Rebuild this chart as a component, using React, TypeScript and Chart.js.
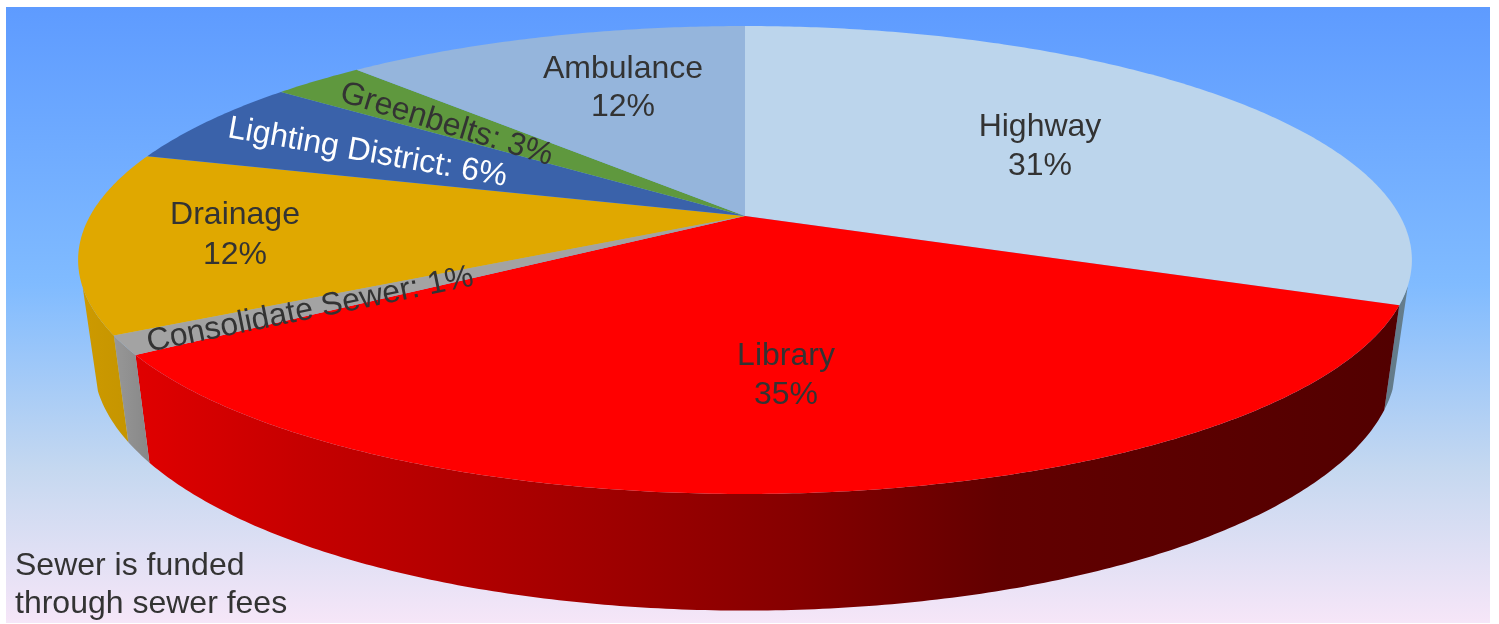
import React, { useEffect, useRef } from "react";
import { Chart, registerables } from "chart.js";

Chart.register(...registerables);

const sliceNames = ["Highway", "Library", "Consolidate Sewer", "Drainage", "Lighting District", "Greenbelts", "Ambulance"];
const sliceValues = [31, 34.7, 1.3, 12.5, 6, 2.7, 11.8];
const shownPercents = [31, 35, 1, 12, 6, 3, 12];
const sliceColors = ["#bcd5ec", "#ff0000", "#a3a3a3", "#e0a800", "#3a62aa", "#5f983e", "#95b5dc"];
const noteLines = ["Sewer is funded", "through sewer fees"];

// side-wall shading per slice: [x, colour]
const sideShades: [number, string][][] = [
  [[1300, "#5a6a78"], [1420, "#66808f"]],
  [[135, "#e00000"], [300, "#c60000"], [600, "#a00000"], [800, "#850000"], [1000, "#620000"], [1400, "#520000"]],
  [[110, "#999999"], [155, "#858585"]],
  [[70, "#cf9b00"], [135, "#c49400"]],
  [[0, "#2c4a80"], [1499, "#2c4a80"]],
  [[0, "#47722e"], [1499, "#47722e"]],
  [[0, "#7088a5"], [1499, "#7088a5"]],
];

// label placement: two-line = [cx, baseline1, baseline2]; inline = [cx, baseline, degrees]
const stacked: Record<string, number[]> = {
  Highway: [1040, 136, 175],
  Library: [786, 365, 404],
  Drainage: [235, 224, 264],
  Ambulance: [623, 78, 116],
};
const inline: Record<string, { at: number[]; color: string }> = {
  "Consolidate Sewer": { at: [312, 318.5, -11.5], color: "#333333" },
  "Lighting District": { at: [366, 161.5, 10], color: "#ffffff" },
  Greenbelts: { at: [444, 133, 17], color: "#333333" },
};

const TOP = { x0: 745, y0: 216, A: 655, B: 225.7, k: 0.188 };
const BOTTOM = { x0: 745, y0: 315, A: 640, B: 240, k: 0.188 };
const WALL_MIN_V = 0.29; // walls only show on the front of the disk
const FONT = '32px "Liberation Sans", Arial, sans-serif';

type Disk = typeof TOP;
const project = (d: Disk, t: number) => {
  const u = Math.sin(t);
  const v = -Math.cos(t);
  const w = 1 - d.k * v;
  return { x: d.x0 + (d.A * u) / w, y: d.y0 + (d.B * v) / w };
};

const angles = (a: number, b: number) => {
  const n = Math.max(8, Math.ceil((b - a) / 0.01));
  const ts = [];
  for (let i = 0; i <= n; i++) ts.push(a + ((b - a) * i) / n);
  return ts;
};

const pie3d = {
  id: "pie3d",
  beforeDraw(chart: any) {
    const { ctx } = chart;
    const g = ctx.createLinearGradient(0, 7, 0, 623);
    g.addColorStop(0, "#5e9bff");
    g.addColorStop(0.45, "#80bbff");
    g.addColorStop(0.75, "#c5d8f0");
    g.addColorStop(1, "#f6e6f8");
    ctx.fillStyle = g;
    ctx.fillRect(6, 7, 1484, 616);
  },
  beforeDatasetsDraw(chart: any) {
    const { ctx } = chart;
    const arcs = chart.getDatasetMeta(0).data;
    const spans = arcs.map((a: any) => {
      const p = a.getProps(["startAngle", "endAngle"], true);
      return [p.startAngle + Math.PI / 2, p.endAngle + Math.PI / 2];
    });
    ctx.save();
    // side walls
    spans.forEach(([a, b]: number[], i: number) => {
      const ts = angles(a, b).filter((t) => -Math.cos(t) >= WALL_MIN_V);
      if (ts.length < 2) return;
      const stops = sideShades[i];
      const x0 = stops[0][0];
      const x1 = stops[stops.length - 1][0];
      const g = ctx.createLinearGradient(x0, 0, x1, 0);
      stops.forEach(([x, c]) => g.addColorStop((x - x0) / (x1 - x0), c));
      ctx.fillStyle = g;
      const top = ts.map((t) => project(TOP, t));
      const bot = ts.map((t) => project(BOTTOM, t)).reverse();
      ctx.beginPath();
      [...top, ...bot].forEach((p, j) => (j ? ctx.lineTo(p.x, p.y) : ctx.moveTo(p.x, p.y)));
      ctx.closePath();
      ctx.fill();
    });
    // top faces
    spans.forEach(([a, b]: number[], i: number) => {
      ctx.fillStyle = sliceColors[i];
      ctx.beginPath();
      ctx.moveTo(TOP.x0, TOP.y0);
      angles(a, b).forEach((t) => {
        const p = project(TOP, t);
        ctx.lineTo(p.x, p.y);
      });
      ctx.closePath();
      ctx.fill();
    });
    ctx.restore();
    return false;
  },
  afterDraw(chart: any) {
    const { ctx } = chart;
    ctx.save();
    ctx.font = FONT;
    ctx.textBaseline = "alphabetic";
    sliceNames.forEach((name, i) => {
      const pct = `${shownPercents[i]}%`;
      ctx.textAlign = "center";
      if (stacked[name]) {
        const [cx, y1, y2] = stacked[name];
        ctx.fillStyle = "#333333";
        ctx.fillText(name, cx, y1);
        ctx.fillText(pct, cx, y2);
      } else {
        const { at, color } = inline[name];
        ctx.save();
        ctx.translate(at[0], at[1]);
        ctx.rotate((at[2] * Math.PI) / 180);
        ctx.fillStyle = color;
        ctx.fillText(`${name}: ${pct}`, 0, 0);
        ctx.restore();
      }
    });
    ctx.textAlign = "left";
    ctx.fillStyle = "#333333";
    noteLines.forEach((line, i) => ctx.fillText(line, 15, 575 + i * 38));
    ctx.restore();
  },
};

export default function App() {
  const ref = useRef<HTMLCanvasElement>(null);
  useEffect(() => {
    const chart = new Chart(ref.current!, {
      type: "pie",
      data: {
        labels: sliceNames,
        datasets: [{ data: sliceValues, backgroundColor: sliceColors, borderWidth: 0 }],
      },
      options: {
        responsive: false,
        animation: false,
        plugins: { legend: { display: false }, tooltip: { enabled: false } },
      },
      plugins: [pie3d],
    });
    return () => chart.destroy();
  }, []);
  return (
    <div style={{ position: "absolute", left: 0, top: 0, width: 1499, height: 624, background: "#fff" }}>
      <canvas ref={ref} width={1499} height={624} style={{ display: "block" }} />
    </div>
  );
}
